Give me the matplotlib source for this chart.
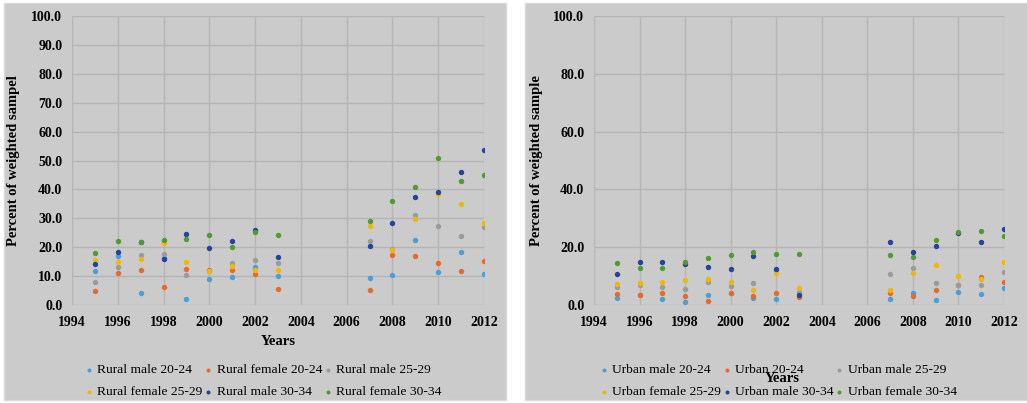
import matplotlib
matplotlib.use("Agg")
import matplotlib.pyplot as plt
from matplotlib.patches import Rectangle

plt.rcParams["font.family"] = ["Liberation Serif", "DejaVu Serif"]

years = [1995, 1996, 1997, 1998, 1999, 2000, 2001, 2002, 2003,
         2007, 2008, 2009, 2010, 2011, 2012]

# Rural series (percent of weighted sample)
rural_male_20_24 = [11.8, 17.0, 4.0, 16.2, 2.2, 8.9, 9.8, 13.0, 10.2, 9.3, 10.4, 22.5, 11.5, 18.4, 10.7]
rural_female_20_24 = [4.7, 11.0, 12.0, 6.1, 12.5, 12.0, 12.1, 10.7, 5.6, 5.1, 17.3, 17.1, 14.6, 11.9, 15.2]
rural_male_25_29 = [8.1, 13.3, 17.3, 17.5, 10.3, 11.6, 14.6, 15.6, 14.4, 22.3, 19.5, 31.0, 27.2, 23.9, 27.0]
rural_female_25_29 = [15.6, 14.8, 15.8, 21.6, 15.0, 11.9, 13.5, 12.1, 12.0, 27.2, 18.9, 29.8, 38.4, 34.8, 28.3]
rural_male_30_34 = [14.1, 18.4, 21.7, 15.9, 24.5, 19.8, 22.1, 25.9, 16.7, 20.4, 28.4, 37.3, 39.0, 45.9, 53.5]
rural_female_30_34 = [18.1, 22.1, 21.9, 22.5, 22.7, 24.2, 20.1, 25.3, 24.3, 29.2, 35.9, 40.7, 50.9, 43.0, 45.0]

# Urban series
urban_male_20_24 = [2.4, 3.3, 2.1, 1.2, 3.4, 4.0, 2.5, 2.1, 3.8, 2.0, 4.0, 1.7, 4.5, 3.9, 5.8]
urban_female_20_24 = [3.8, 3.4, 4.2, 3.1, 1.4, 4.2, 3.0, 4.0, 2.9, 4.0, 3.1, 5.3, 6.8, 9.8, 7.9]
urban_male_25_29 = [6.1, 6.9, 6.1, 5.4, 8.1, 6.5, 7.6, 12.0, 4.6, 10.8, 12.9, 7.7, 7.0, 6.8, 11.3]
urban_female_25_29 = [7.3, 7.7, 8.1, 8.8, 9.1, 8.0, 5.3, 11.1, 5.8, 5.1, 11.2, 13.7, 9.9, 8.9, 14.8]
urban_male_30_34 = [10.7, 14.9, 14.9, 14.2, 13.0, 12.5, 17.0, 12.5, 3.5, 21.7, 18.3, 20.5, 25.0, 21.9, 26.2]
urban_female_30_34 = [14.4, 12.9, 12.9, 15.0, 16.3, 17.4, 18.2, 17.5, 17.5, 17.3, 16.6, 22.4, 25.3, 25.6, 23.9]

rural_labels = ["Rural male 20-24", "Rural female 20-24", "Rural male 25-29",
                "Rural female 25-29", "Rural male 30-34", "Rural female 30-34"]
urban_labels = ["Urban male 20-24", "Urban 20-24", "Urban male 25-29",
                "Urban female 25-29", "Urban male 30-34", "Urban female 30-34"]

colors = ["#4a9fd8", "#e8692c", "#9b9b9b", "#f2b705", "#24439a", "#4f9b30"]
BG = "#cbcbcb"
GRID = "#b5b5b5"
W, H = 1027, 403


def draw_panel(ax, series, labels, ymax, ystep, legend_x):
    for vals, lab, col in zip(series, labels, colors):
        ax.scatter(years, vals, s=15, color=col, label=lab, zorder=3, linewidths=0)

    ax.set_facecolor(BG)
    ax.set_xlim(1994, 2012)
    ax.set_ylim(0, ymax)
    ax.set_xticks(range(1994, 2013, 2))
    ax.set_yticks([v * ystep for v in range(int(ymax / ystep) + 1)])
    ax.set_yticklabels([f"{v * ystep:.1f}" for v in range(int(ymax / ystep) + 1)])
    ax.grid(True, color=GRID, linewidth=1)
    ax.set_axisbelow(True)
    for s in ax.spines.values():
        s.set_visible(False)
    ax.tick_params(length=0, labelsize=10)
    ax.tick_params(axis="x", pad=8)
    ax.tick_params(axis="y", pad=7)
    for t in ax.get_xticklabels() + ax.get_yticklabels():
        t.set_fontweight("bold")

    # legend is filled row by row in the original
    h, l = ax.get_legend_handles_labels()
    order = [0, 3, 1, 4, 2, 5]
    ax.legend([h[i] for i in order], [l[i] for i in order], ncol=3,
              loc="upper left", bbox_to_anchor=(legend_x / W, 1 - 364 / H),
              bbox_transform=ax.figure.transFigure, frameon=False,
              fontsize=9.7, scatterpoints=1, markerscale=0.75,
              handlelength=0.55, handletextpad=0.35, columnspacing=0.15,
              labelspacing=0.7, borderpad=0, borderaxespad=0)


fig = plt.figure(figsize=(W / 100, H / 100), dpi=100)
fig.patch.set_facecolor("white")
fig.patches.append(Rectangle((4 / W, 3 / H), 502 / W, 397 / H, transform=fig.transFigure,
                             facecolor=BG, edgecolor="#dadada", linewidth=1, zorder=-5))
fig.patches.append(Rectangle((525 / W, 3 / H), 505 / W, 397 / H, transform=fig.transFigure,
                             facecolor=BG, edgecolor="#dadada", linewidth=1, zorder=-5))

ax1 = fig.add_axes([72 / W, 1 - 305 / H, 412 / W, 289 / H])
draw_panel(ax1,
           [rural_male_20_24, rural_female_20_24, rural_male_25_29,
            rural_female_25_29, rural_male_30_34, rural_female_30_34],
           rural_labels, 100, 10, 85)
ax1.set_xlabel("Years", fontsize=10.5, fontweight="bold")
ax1.xaxis.set_label_coords(0.5, (305 - 335) / 289)
ax1.set_ylabel("Percent of weighted sampel", fontsize=10.5, fontweight="bold")
ax1.yaxis.set_label_coords((20 - 72) / 412, 0.5)

ax2 = fig.add_axes([594 / W, 1 - 305 / H, 410 / W, 289 / H])
draw_panel(ax2,
           [urban_male_20_24, urban_female_20_24, urban_male_25_29,
            urban_female_25_29, urban_male_30_34, urban_female_30_34],
           urban_labels, 100, 20, 600)
ax2.set_xlabel("Years", fontsize=10.5, fontweight="bold")
ax2.xaxis.set_label_coords((782 - 594) / 410, (305 - 372) / 289)
ax2.set_ylabel("Percent of weighted sample", fontsize=10.5, fontweight="bold")
ax2.yaxis.set_label_coords((543 - 594) / 410, 0.5)

fig.savefig("out.png", dpi=100, facecolor=fig.get_facecolor())
